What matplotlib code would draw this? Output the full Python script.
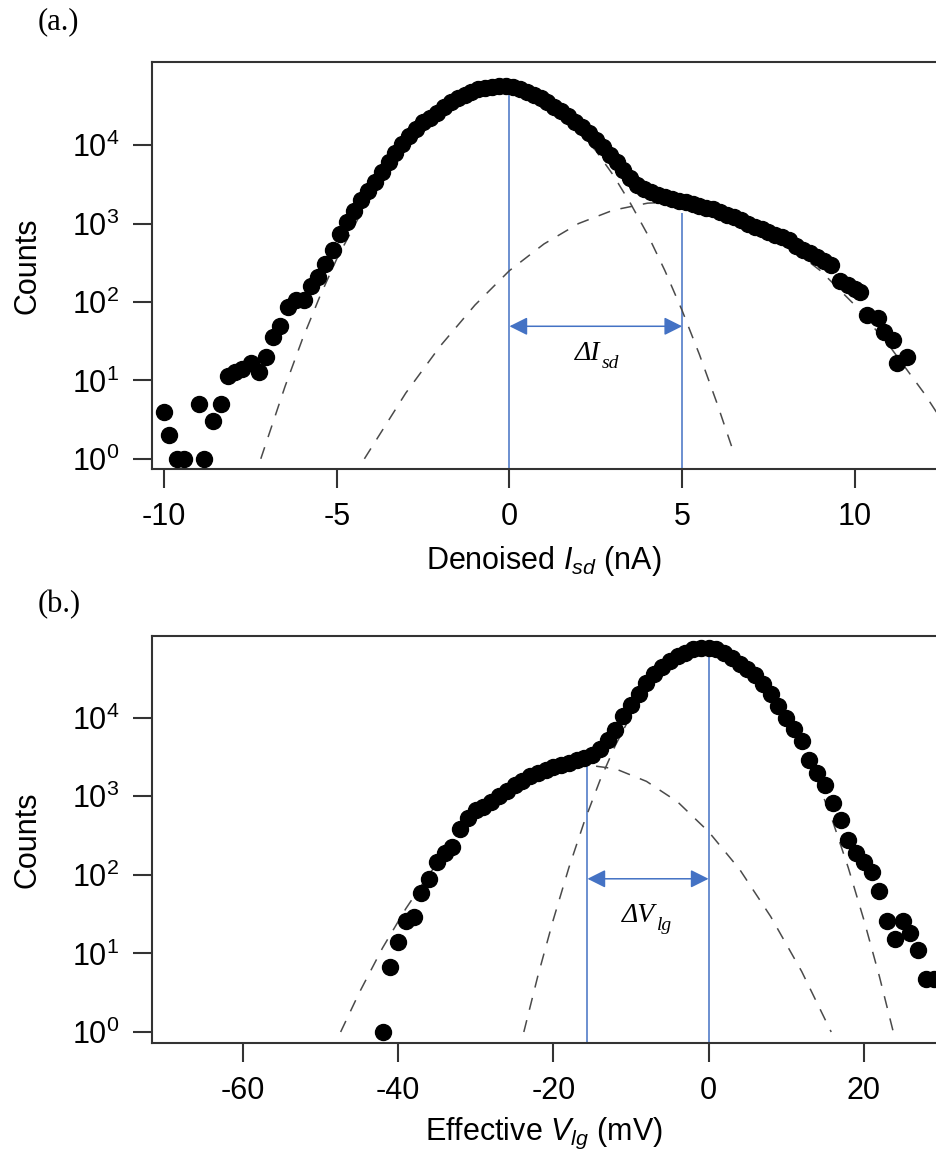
import matplotlib
matplotlib.use("Agg")
import matplotlib.pyplot as plt
import matplotlib.transforms as mtransforms
import numpy as np

plt.rcParams["font.family"] = ["Liberation Sans", "DejaVu Sans"]
plt.rcParams["mathtext.fontset"] = "custom"
plt.rcParams["mathtext.rm"] = "Liberation Sans"
plt.rcParams["mathtext.it"] = "Liberation Sans:italic"
plt.rcParams["mathtext.default"] = "regular"

# ---- panel (a): denoised I_sd histogram (counts stored as log10 values)
isd_x = [-10.0, -9.86, -9.62, -9.41, -9.0, -8.83, -8.59, -8.34, -8.14, -7.96, -7.73, -7.49,
         -7.25, -7.05, -6.86, -6.64, -6.4, -6.18, -5.96, -5.75, -5.55, -5.33, -5.12,
         -4.9, -4.7, -4.5, -4.3, -4.1, -3.9, -3.7, -3.5, -3.3, -3.1, -2.9, -2.7, -2.5, -2.3,
         -2.1, -1.9, -1.7, -1.5, -1.3, -1.1, -0.9, -0.7, -0.5, -0.3, -0.1, 0.1, 0.3, 0.5,
         0.7, 0.9, 1.1, 1.3, 1.5, 1.7, 1.9, 2.1, 2.3, 2.5, 2.7, 2.9, 3.1, 3.3, 3.5, 3.7,
         3.9, 4.1, 4.3, 4.5, 4.7, 4.9, 5.1, 5.3, 5.5, 5.7, 5.9, 6.1, 6.3, 6.5, 6.7, 6.9,
         7.1, 7.3, 7.5, 7.7, 7.9, 8.1, 8.3, 8.5, 8.7, 8.9, 9.1, 9.3,
         9.56, 9.8, 10.0, 10.15, 10.34, 10.68, 10.83, 11.11, 11.21, 11.5]
isd_logc = [0.60, 0.30, 0.0, 0.0, 0.70, 0.0, 0.48, 0.70, 1.06, 1.11, 1.15, 1.22,
            1.11, 1.30, 1.55, 1.69, 1.93, 2.03, 2.03, 2.20, 2.32, 2.49, 2.66,
            2.87, 3.02, 3.16, 3.30, 3.41, 3.53, 3.66, 3.78, 3.90, 4.01, 4.12, 4.21, 4.29, 4.35,
            4.41, 4.48, 4.55, 4.60, 4.64, 4.68, 4.71, 4.73, 4.745, 4.75, 4.75, 4.74, 4.72, 4.68,
            4.64, 4.60, 4.55, 4.49, 4.43, 4.37, 4.30, 4.23, 4.15, 4.06, 3.97, 3.88, 3.78, 3.68, 3.58, 3.49,
            3.44, 3.40, 3.37, 3.34, 3.31, 3.29, 3.27, 3.25, 3.22, 3.20, 3.18, 3.15, 3.11, 3.08, 3.04, 3.00,
            2.96, 2.93, 2.89, 2.86, 2.83, 2.79, 2.72, 2.66, 2.62, 2.57, 2.52, 2.47,
            2.27, 2.22, 2.16, 2.13, 1.83, 1.79, 1.62, 1.52, 1.22, 1.30]

# fitted components (dashed)
isd_fit1_x = [-7.2, -6.5, -6.0, -5.5, -5.0, -4.0, -3.0, -2.0, -1.0, -0.33, 0.5, 1.5, 2.5,
              3.0, 3.5, 4.0, 4.5, 5.0, 5.5, 6.0, 6.5]
isd_fit1_logc = [0.0, 0.92, 1.52, 2.06, 2.55, 3.38, 4.02, 4.45, 4.69, 4.73, 4.66, 4.40, 3.93,
                 3.62, 3.26, 2.86, 2.40, 1.89, 1.33, 0.72, 0.07]
isd_fit2_x = [-4.2, -3.0, -2.0, -1.0, 0.0, 1.0, 2.0, 3.0, 4.0, 4.5, 5.0, 6.0, 7.0, 8.0,
              9.0, 10.0, 11.0, 12.0, 12.4]
isd_fit2_logc = [0.0, 0.84, 1.44, 1.96, 2.40, 2.74, 3.00, 3.17, 3.26, 3.27, 3.26, 3.17, 3.00,
                 2.74, 2.40, 1.96, 1.44, 0.84, 0.57]

# ---- panel (b): effective V_lg histogram
vlg_x = [-42, -41, -40, -39, -38, -37, -36, -35, -34, -33, -32, -31, -30, -29, -28, -27,
         -26, -25, -24, -23, -22, -21, -20, -19, -18, -17, -16, -15, -14, -13, -12, -11,
         -10, -9, -8, -7, -6, -5, -4, -3, -2, -1, 0, 1, 2, 3, 4, 5, 6, 7, 8, 9, 10, 11,
         12, 13, 14, 15, 16, 17, 18, 19, 20, 21, 22, 23, 24, 25, 26, 27, 28, 29]
vlg_logc = [0.0, 0.83, 1.14, 1.41, 1.46, 1.77, 1.95, 2.17, 2.28, 2.36, 2.58, 2.72, 2.82, 2.87,
            2.93, 3.00, 3.07, 3.14, 3.20, 3.26, 3.30, 3.33, 3.37, 3.40, 3.43, 3.46, 3.49, 3.53,
            3.60, 3.72, 3.84, 4.02, 4.16, 4.30, 4.44, 4.56, 4.64, 4.72, 4.78, 4.83, 4.87, 4.89,
            4.89, 4.87, 4.82, 4.76, 4.69, 4.62, 4.54, 4.43, 4.30, 4.15, 4.00, 3.86, 3.70, 3.46,
            3.30, 3.14, 2.91, 2.70, 2.45, 2.28, 2.17, 2.04, 1.79, 1.41, 1.19, 1.41, 1.26, 1.04,
            0.68, 0.68]

vlg_fit1_x = [-47.4, -45, -42, -39, -36, -33, -30, -26, -22, -18, -15.8, -12, -8, -4, 0, 4,
              8, 12, 15.8]
vlg_fit1_logc = [0.0, 0.50, 1.07, 1.57, 2.01, 2.39, 2.71, 3.05, 3.27, 3.38, 3.40, 3.35, 3.19,
                 2.93, 2.55, 2.07, 1.47, 0.77, 0.0]
vlg_fit2_x = [-23.8, -22, -20, -18, -16, -14, -12, -10, -8, -6, -4, -2, 0, 2, 4, 6, 8, 10,
              12, 14, 16, 18, 20, 22, 23.8]
vlg_fit2_logc = [0.0, 0.71, 1.43, 2.09, 2.68, 3.20, 3.65, 4.03, 4.34, 4.58, 4.75, 4.86, 4.89,
                 4.86, 4.75, 4.58, 4.34, 4.03, 3.65, 3.20, 2.68, 2.09, 1.43, 0.71, 0.0]

BLUE = "#4472C4"
FIT = "#4a4a4a"
SPINE = "#333333"

fig = plt.figure(figsize=(9.36, 11.56), dpi=100)
W, H = 936.0, 1156.0


def style_axes(ax, xticks):
    ax.set_yscale("log")
    ax.set_yticks([1, 10, 100, 1000, 10000])
    ax.set_yticklabels([r"$10^{%d}$" % k for k in range(5)])
    ax.minorticks_off()
    ax.set_xticks(xticks)
    ax.set_xticklabels([str(t) for t in xticks])
    ax.spines["right"].set_visible(False)
    for s in ("left", "bottom", "top"):
        ax.spines[s].set_linewidth(1.5)
        ax.spines[s].set_color(SPINE)
    ax.tick_params(direction="out", length=13.5, width=1.5, color=SPINE,
                   labelsize=22, top=False, right=False)
    ax.tick_params(axis="y", pad=10)
    ax.tick_params(axis="x", pad=10)


def draw_panel(ax, x, logc, fits):
    for fx, fl in fits:
        ax.plot(fx, 10 ** np.array(fl), color=FIT, lw=1.1, ls=(0, (8, 7)), zorder=2)
    ax.plot(x, 10 ** np.array(logc), "o", color="black", ms=11.5, mec="black", zorder=3,
            clip_on=False)


def delta_label(ax, x, y, main, sub):
    # italic serif "ΔX" with a smaller italic subscript, joined at (x, y)
    ax.text(x, y, main, fontsize=20, family="Liberation Serif", style="italic",
            ha="right", va="baseline")
    tr = mtransforms.offset_copy(ax.transData, fig=ax.figure, x=1, y=-6, units="points")
    ax.text(x, y, sub, fontsize=14, family="Liberation Serif", style="italic",
            ha="left", va="baseline", transform=tr)


def double_arrow(ax, x0, x1, y):
    ax.annotate("", xy=(x1, y), xytext=(x0, y),
                arrowprops=dict(arrowstyle="<|-|>,head_length=0.5,head_width=0.25",
                                color=BLUE, lw=1.1, mutation_scale=22, shrinkA=0, shrinkB=0))


# (a)
ax1 = fig.add_axes([152 / W, 1 - 469 / H, (936 - 152) / W, (469 - 62) / H])
draw_panel(ax1, isd_x, isd_logc, [(isd_fit1_x, isd_fit1_logc), (isd_fit2_x, isd_fit2_logc)])
ax1.set_xlim(-10.35, 12.35)
ax1.set_ylim(10 ** -0.13, 10 ** 5.06)
style_axes(ax1, [-10, -5, 0, 5, 10])
ax1.set_ylabel("Counts", fontsize=22, labelpad=21)
ax1.set_xlabel(r"Denoised $\mathit{I_{sd}}$ (nA)", fontsize=22, labelpad=9)
ax1.vlines([0], 10 ** -0.13, 10 ** 4.64, color=BLUE, lw=1.1, zorder=1)
ax1.vlines([5], 10 ** -0.13, 10 ** 3.13, color=BLUE, lw=1.1, zorder=1)
double_arrow(ax1, 0, 5, 10 ** 1.69)
delta_label(ax1, 2.62, 10 ** 1.26, "\u0394I", "sd")

# (b)
ax2 = fig.add_axes([152 / W, 1 - 1043 / H, (936 - 152) / W, (1043 - 636) / H])
draw_panel(ax2, vlg_x, vlg_logc, [(vlg_fit1_x, vlg_fit1_logc), (vlg_fit2_x, vlg_fit2_logc)])
ax2.set_xlim(-71.7, 29.3)
ax2.set_ylim(10 ** -0.14, 10 ** 5.04)
style_axes(ax2, [-60, -40, -20, 0, 20])
ax2.set_ylabel("Counts", fontsize=22, labelpad=21)
ax2.set_xlabel(r"Effective $\mathit{V_{lg}}$ (mV)", fontsize=22, labelpad=7)
ax2.vlines([-15.6], 10 ** -0.14, 10 ** 3.38, color=BLUE, lw=1.1, zorder=1)
ax2.vlines([0], 10 ** -0.14, 10 ** 4.78, color=BLUE, lw=1.1, zorder=1)
double_arrow(ax2, -15.6, 0, 10 ** 1.95)
delta_label(ax2, -6.84, 10 ** 1.40, "\u0394V", "lg")

fig.text(38 / W, 1 - 22 / H, "(a.)", fontsize=22, family="Liberation Serif", va="center")
fig.text(38 / W, 1 - 605 / H, "(b.)", fontsize=22, family="Liberation Serif", va="center")

fig.savefig("out.png", dpi=100)
